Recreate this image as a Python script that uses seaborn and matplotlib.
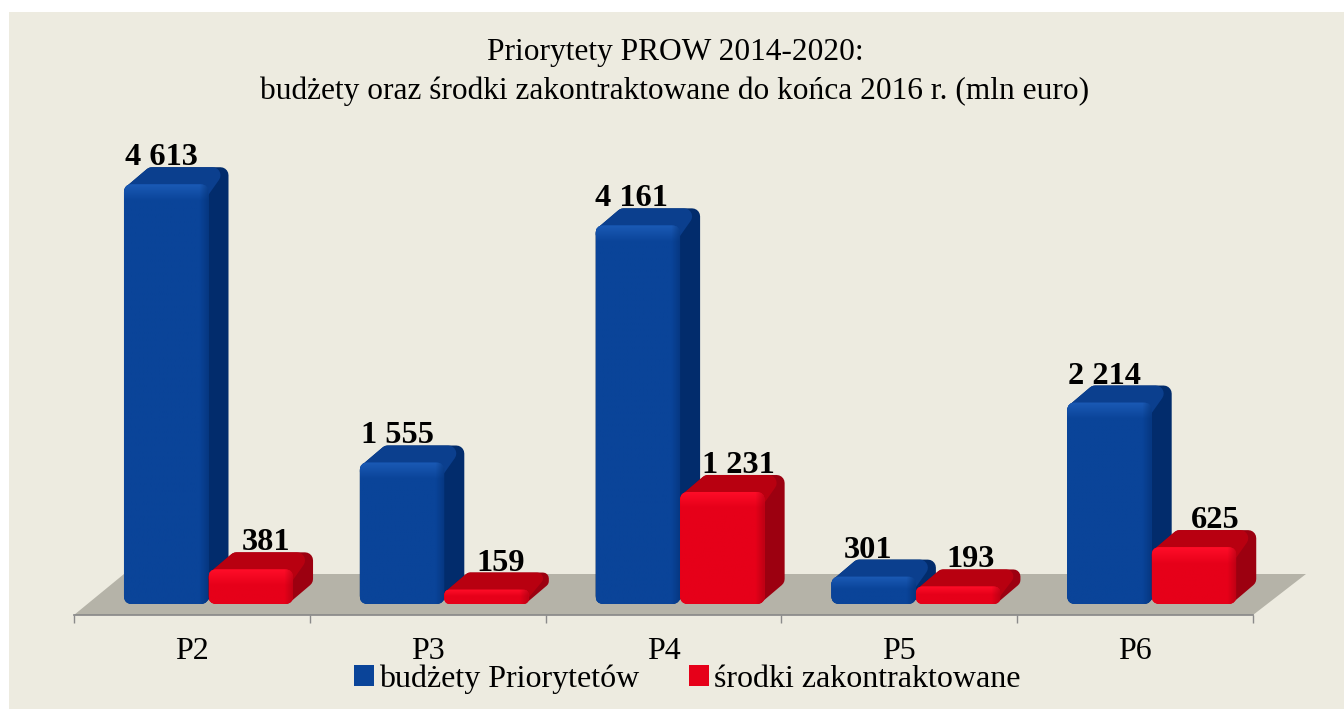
import numpy as np
import pandas as pd
import seaborn as sns
import matplotlib.pyplot as plt
from matplotlib.colors import to_rgb
from matplotlib.patches import Polygon, PathPatch, Rectangle
from matplotlib.path import Path

# values (mln euro)
priorities = ["P2", "P3", "P4", "P5", "P6"]
budgets = [4613, 1555, 4161, 301, 2214]
contracted = [381, 159, 1231, 193, 625]
series_names = ["budżety Priorytetów", "środki zakontraktowane"]

title_text = "Priorytety PROW 2014-2020:\nbudżety oraz środki zakontraktowane do końca 2016 r. (mln euro)"

W, H = 1344, 709
BG = "#edebe0"
# front, bright, top, side colours for each series
BLUE = ["#0a4499", "#1b5ab5", "#0b3f8e", "#022c6c"]
RED = ["#e60019", "#ff0d28", "#b80010", "#9c0010"]

# pixels per unit of the two axes
PX_CAT = 235.8
PX_VAL = 0.091
DEPTH_X = 20
DEPTH_Y = 17

# horizontal nudge of the value labels, in pixels
label_shift = [[-5, -5, -6, -6, -5], [15, 14, 16, 12, 21]]


def px_x(p):
    return p / PX_CAT


def px_y(p):
    return p / PX_VAL


def rounded_path(x, y, w, h, r):
    rx, ry = px_x(r), px_y(r)
    verts = [
        (x + rx, y), (x + w - rx, y), (x + w, y), (x + w, y + ry),
        (x + w, y + h - ry), (x + w, y + h), (x + w - rx, y + h),
        (x + rx, y + h), (x, y + h), (x, y + h - ry),
        (x, y + ry), (x, y), (x + rx, y), (x + rx, y),
    ]
    codes = [
        Path.MOVETO, Path.LINETO, Path.CURVE3, Path.CURVE3,
        Path.LINETO, Path.CURVE3, Path.CURVE3,
        Path.LINETO, Path.CURVE3, Path.CURVE3,
        Path.LINETO, Path.CURVE3, Path.CURVE3, Path.CLOSEPOLY,
    ]
    return Path(verts, codes)


def face_shading(colors, height_px):
    # small image for the front face: lighter band at the top, soft dark right edge
    front = np.array(to_rgb(colors[0]))
    bright = np.array(to_rgb(colors[1]))
    side = np.array(to_rgb(colors[3]))
    rows = max(int(height_px), 2)
    cols = 84
    img = np.zeros((rows, cols, 3))
    band = min(16, rows * 0.45)
    for r in range(rows):
        t = max(0.0, 1 - r / band)
        img[r, :, :] = front + (bright - front) * t
    for c in range(cols - 10, cols):
        t = (c - (cols - 10)) / 10 * 0.6
        img[:, c, :] = img[:, c, :] * (1 - t) + side * t
    return img


sns.set_theme(style="white")
plt.rcParams["font.family"] = ["Liberation Serif", "DejaVu Serif"]

df = pd.DataFrame({
    "priorytet": priorities * 2,
    "mln": budgets + contracted,
    "seria": [series_names[0]] * 5 + [series_names[1]] * 5,
})

fig = plt.figure(figsize=(W / 100, H / 100), dpi=100, facecolor="white")
fig.patches.append(Rectangle((9 / W, 0), (W - 9) / W, (H - 12) / H, zorder=-1,
                             transform=fig.transFigure, facecolor=BG, edgecolor="none"))

ax_left, ax_right, ax_bottom, ax_top = 74, 1253, 615, 100
ax = fig.add_axes([ax_left / W, 1 - ax_bottom / H, (ax_right - ax_left) / W, (ax_bottom - ax_top) / H])
ax.patch.set_alpha(0)

sns.barplot(data=df, x="priorytet", y="mln", hue="seria", palette=[BLUE[0], RED[0]],
            width=0.717, gap=0, saturation=1, ax=ax, edgecolor="none", linewidth=0)

xlim = (-134.5 / PX_CAT, 5 - 134.5 / PX_CAT)
ylim = (-11 / PX_VAL, (604 - ax_top) / PX_VAL)

# floor of the 3D chart
floor = Polygon([(xlim[0], ylim[0]), (xlim[1], ylim[0]),
                 (xlim[1] + px_x(53), ylim[0] + px_y(41)),
                 (xlim[0] + px_x(50), ylim[0] + px_y(41))],
                facecolor="#b5b3a8", edgecolor="none", zorder=1, clip_on=False)
ax.add_patch(floor)

z = 3
for s, (container, colors) in enumerate(zip(ax.containers, [BLUE, RED])):
    for i, (bar, value) in enumerate(zip(container, [budgets, contracted][s])):
        x, w, h = bar.get_x(), bar.get_width(), bar.get_height()
        h_px = h * PX_VAL
        dx, dy = px_x(DEPTH_X), px_y(DEPTH_Y)
        r = min(8, h_px / 2.5)
        rx, ry = px_x(r), px_y(r)

        # side and top silhouette with rounded joins
        shape = Polygon([(x + w - rx, ry), (x + w + dx - rx, dy + ry),
                         (x + w + dx - rx, h + dy - ry), (x + dx + rx, h + dy - ry),
                         (x + rx, h - ry), (x + rx, ry)],
                        facecolor=colors[3], edgecolor=colors[3], linewidth=2 * r * 0.72,
                        joinstyle="round", zorder=z, clip_on=False)
        ax.add_patch(shape)
        top = Polygon([(x + rx, h - ry), (x + dx + rx, h + dy - ry),
                       (x + w + dx - 2 * rx, h + dy - ry), (x + w - rx, h - ry)],
                      facecolor=colors[2], edgecolor=colors[2], linewidth=2 * r * 0.72,
                      joinstyle="round", zorder=z + 0.1, clip_on=False)
        ax.add_patch(top)

        # front face: the seaborn bar itself, shaded and rounded
        clip = PathPatch(rounded_path(x, 0, w, h, r), transform=ax.transData,
                         facecolor="none", edgecolor="none")
        ax.add_patch(clip)
        bar.set_zorder(z + 0.2)
        bar.set_clip_path(clip)
        im = ax.imshow(face_shading(colors, h_px), extent=(x, x + w, 0, h), aspect="auto",
                       interpolation="bilinear", zorder=z + 0.3)
        im.set_clip_path(clip)

        ax.text(x + w / 2 + px_x(label_shift[s][i]), h + dy + px_y(2), f"{value:,}".replace(",", " "),
                ha="center", va="baseline", fontsize=23.3, fontweight="bold", color="black",
                zorder=50, clip_on=False)
        z += 1

ax.set_xlim(xlim)
ax.set_ylim(ylim)

# ticks sit between the categories, labels in the middle
edges = [xlim[0] + i for i in range(6)]
ax.set_xticks(edges)
ax.set_xticklabels([])
ax.set_xticks([e + 0.5 for e in edges[:-1]], minor=True)
ax.set_xticklabels(priorities, minor=True, fontsize=23, color="black")
ax.tick_params(axis="x", which="major", length=6, width=1, color="#8a8a8a", bottom=True)
ax.tick_params(axis="x", which="minor", length=0, pad=16)
ax.set_yticks([])
ax.set_xlabel("")
ax.set_ylabel("")
sns.despine(ax=ax, left=True)
ax.spines["bottom"].set_color("#8a8a8a")
ax.spines["bottom"].set_zorder(2)

fig.text(675 / W, 1 - 72 / H, title_text, ha="center", va="center", fontsize=22.6,
         color="black", linespacing=1.42)

handles, labels = ax.get_legend_handles_labels()
ax.legend(handles, labels, loc="center", bbox_to_anchor=(687.5 / W, 1 - 679 / H),
          bbox_transform=fig.transFigure, ncol=2, frameon=False, fontsize=23, labelcolor="black",
          handlelength=0.62, handleheight=0.62, handletextpad=0.16, columnspacing=1.56,
          borderpad=0, borderaxespad=0)

fig.savefig("out.png", dpi=100, facecolor=fig.get_facecolor())
